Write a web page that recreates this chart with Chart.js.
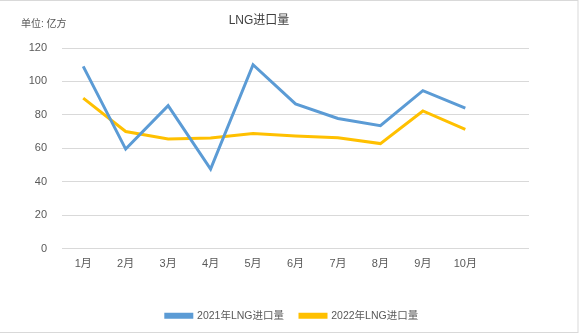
<!DOCTYPE html>
<html>
<head>
<meta charset="utf-8">
<script src="https://cdn.jsdelivr.net/npm/chart.js"></script>
<style>
  body { margin: 0; background: #fff; }
  #wrap { width: 584px; height: 335px; position: relative; }
</style>
</head>
<body>
<div id="wrap"><canvas id="myChart" width="584" height="335"></canvas></div>

<script>
// -- Data.
const months = ['1月', '2月', '3月', '4月', '5月', '6月', '7月', '8月', '9月', '10月', ''];
const imports_2021 = [109, 59.5, 85.5, 47.5, 110, 86.5, 77.8, 73.5, 94.5, 84];
const imports_2022 = [90, 70, 65.5, 66.2, 68.8, 67.3, 66.3, 62.8, 82.3, 71.3];
const y_ticks = [0, 20, 40, 60, 80, 100, 120];
const chart_title = 'LNG进口量';
const unit_note = '单位: 亿方';

const FONT = "'Liberation Sans', 'Noto Sans CJK SC', sans-serif";
const TEXT = '#595959';

// -- White background, thin frame, the title and the unit note.
const frame_plugin = {
  id: 'frame',
  beforeDraw: (chart) => {
    const ctx = chart.ctx;
    ctx.save();
    ctx.fillStyle = '#fff';
    ctx.fillRect(0, 0, chart.width, chart.height);
    ctx.strokeStyle = '#d9d9d9';
    ctx.lineWidth = 1;
    ctx.strokeRect(-1, 0.5, 579, 332);
    ctx.restore();
  },
  afterDraw: (chart) => {
    const ctx = chart.ctx;
    ctx.save();
    ctx.textBaseline = 'middle';
    ctx.fillStyle = '#404040';
    ctx.font = "12px " + FONT;
    ctx.textAlign = 'center';
    ctx.fillText(chart_title, 259, 21);
    ctx.fillStyle = TEXT;
    ctx.font = "10px " + FONT;
    ctx.textAlign = 'left';
    ctx.fillText(unit_note, 21, 24);
    ctx.restore();
  }
};

const chart = new Chart(document.getElementById('myChart'), {
  type: 'line',
  data: {
    labels: months,
    datasets: [
      {
        label: '2021年LNG进口量',
        data: imports_2021,
        borderColor: '#5B9BD5',
        backgroundColor: '#5B9BD5',
        borderWidth: 3,
        pointRadius: 0,
        tension: 0,
      },
      {
        label: '2022年LNG进口量',
        data: imports_2022,
        borderColor: '#FFC000',
        backgroundColor: '#FFC000',
        borderWidth: 3,
        pointRadius: 0,
        tension: 0,
      },
    ],
  },
  options: {
    responsive: false,
    animation: false,
    layout: { padding: { left: 0, right: 0, top: 48, bottom: 4 } },
    scales: {
      x: {
        offset: true,
        grid: { display: false, drawTicks: false },
        border: { display: false },
        ticks: { color: TEXT, font: { family: FONT, size: 11 }, padding: 9, maxRotation: 0, autoSkip: false },
        afterFit: (scale) => { scale.height = 46; },
      },
      y: {
        min: 0,
        max: 120,
        afterBuildTicks: (scale) => { scale.ticks = y_ticks.map(v => ({ value: v })); },
        grid: { color: '#d9d9d9', drawTicks: false },
        border: { display: false },
        ticks: { color: TEXT, font: { family: FONT, size: 11 }, padding: 15 },
        afterFit: (scale) => { scale.width = 62; },
      },
      // -- Empty right-hand axis, only used to keep the blank strip right of the plot.
      y_right: {
        position: 'right',
        min: 0,
        max: 120,
        grid: { display: false, drawTicks: false },
        border: { display: false },
        ticks: { display: false },
        afterFit: (scale) => { scale.width = 55; },
      },
    },
    plugins: {
      title: { display: false },
      legend: {
        position: 'bottom',
        labels: {
          boxWidth: 26,
          boxHeight: 3,
          color: TEXT,
          font: { family: FONT, size: 10.5 },
          padding: 16,
        },
      },
      tooltip: { enabled: false },
    },
  },
  plugins: [frame_plugin],
});
</script>
</body>
</html>
